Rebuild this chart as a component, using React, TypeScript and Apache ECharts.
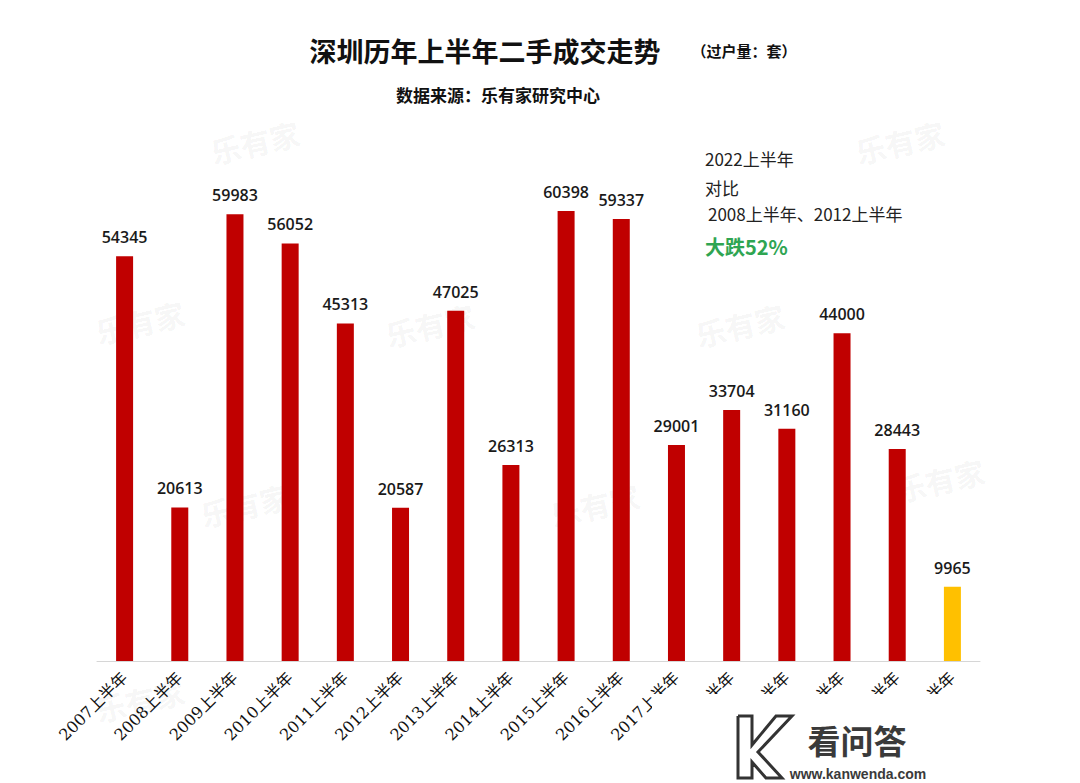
import React, { useEffect, useRef } from "react";
import * as echarts from "echarts";

const categories = [
  "2007上半年", "2008上半年", "2009上半年", "2010上半年", "2011上半年", "2012上半年",
  "2013上半年", "2014上半年", "2015上半年", "2016上半年", "2017上半年", "2018上半年",
  "2019上半年", "2020上半年", "2021上半年", "2022上半年",
];
const values = [
  54345, 20613, 59983, 56052, 45313, 20587, 47025, 26313, 60398, 59337, 29001, 33704,
  31160, 44000, 28443, 9965,
];
const highlightIndex = 15;
const titleText = "深圳历年上半年二手成交走势";
const unitText = "（过户量：套）";
const sourceText = "数据来源：乐有家研究中心";
const noteLines = ["2022上半年", "对比", "2008上半年、2012上半年"];
const noteHighlight = "大跌52%";

const watermarks = [
  [255, 142], [140, 322], [245, 505], [430, 325], [595, 505], [740, 325], [900, 142], [940, 480], [140, 700],
];

export default function App() {
  const ref = useRef<HTMLDivElement>(null);
  useEffect(() => {
    if (!ref.current) return;
    const chart = echarts.init(ref.current, null, { renderer: "svg" });
    const cjk = "'Noto Sans CJK SC', 'Noto Sans', sans-serif";
    const wm: any[] = watermarks.map(([x, y]) => ({
      type: "text",
      x,
      y,
      rotation: Math.PI / 14,
      z: 0,
      style: {
        text: "乐有家",
        font: "bold 30px 'Noto Sans CJK SC'",
        fill: "rgba(0,0,0,0.055)",
        align: "center",
        verticalAlign: "middle",
      },
    }));
    chart.setOption({
      animation: false,
      backgroundColor: "#ffffff",
      grid: { left: 97, right: 100, top: 139.5, bottom: 122, containLabel: false },
      xAxis: {
        type: "category",
        data: categories,
        axisLine: { lineStyle: { color: "#d6d6d6", width: 1 } },
        axisTick: { show: false },
        axisLabel: {
          interval: 0,
          rotate: 45,
          margin: 14,
          fontSize: 16,
          color: "#111",
          fontFamily: "'DejaVu Serif', 'Noto Sans CJK SC', serif",
        },
      },
      yAxis: {
        type: "value",
        min: 0,
        max: 70000,
        show: false,
        splitLine: { show: false },
      },
      series: [
        {
          type: "bar",
          barWidth: 17,
          data: values.map((v, i) => ({
            value: v,
            itemStyle: { color: i === highlightIndex ? "#ffc000" : "#c00000" },
          })),
          label: {
            show: true,
            position: "top",
            distance: 11,
            fontSize: 16,
            fontWeight: 600,
            color: "#1a1a1a",
            fontFamily: "'Open Sans', 'Noto Sans', sans-serif",
          },
          z: 2,
        },
      ],
      graphic: [
        ...wm,
        {
          type: "text",
          x: 485,
          y: 50,
          style: {
            text: titleText,
            font: `bold 27px ${cjk}`,
            fill: "#111",
            align: "center",
            verticalAlign: "middle",
          },
        },
        {
          type: "text",
          x: 744,
          y: 50,
          style: {
            text: unitText,
            font: `bold 15px ${cjk}`,
            fill: "#111",
            align: "center",
            verticalAlign: "middle",
          },
        },
        {
          type: "text",
          x: 498,
          y: 94,
          style: {
            text: sourceText,
            font: `bold 17px ${cjk}`,
            fill: "#111",
            align: "center",
            verticalAlign: "middle",
          },
        },
        {
          type: "text",
          x: 705,
          y: 158,
          style: { text: noteLines[0], font: `17px ${cjk}`, fill: "#222", verticalAlign: "middle" },
        },
        {
          type: "text",
          x: 705,
          y: 187,
          style: { text: noteLines[1], font: `17px ${cjk}`, fill: "#222", verticalAlign: "middle" },
        },
        {
          type: "text",
          x: 708,
          y: 213,
          style: { text: noteLines[2], font: `17px ${cjk}`, fill: "#222", verticalAlign: "middle" },
        },
        {
          type: "text",
          x: 705,
          y: 246,
          style: { text: noteHighlight, font: `bold 20px ${cjk}`, fill: "#2fa552", verticalAlign: "middle" },
        },
        {
          type: "rect",
          z: 10,
          shape: { x: 652, y: 694, width: 428, height: 89 },
          style: { fill: "#ffffff" },
        },
        {
          type: "polyline",
          z: 11,
          shape: { points: [[738, 716], [752, 716], [752, 745], [776, 716], [792, 716], [758, 752], [782, 778], [766, 778], [752, 762], [752, 778], [738, 778], [738, 716]] },
          style: { fill: "none", stroke: "#333", lineWidth: 3 },
        },
        {
          type: "text",
          z: 11,
          x: 857,
          y: 740,
          style: { text: "看问答", font: `bold 33px ${cjk}`, fill: "#3a3a3a", align: "center", verticalAlign: "middle" },
        },
        {
          type: "text",
          z: 11,
          x: 858,
          y: 774,
          style: { text: "www.kanwenda.com", font: "bold 14px 'Liberation Sans', sans-serif", fill: "#3a3a3a", align: "center", verticalAlign: "middle" },
        },
      ],
    });
    return () => chart.dispose();
  }, []);
  return (
    <div
      ref={ref}
      style={{ position: "fixed", left: 0, top: 0, width: 1080, height: 783 }}
    />
  );
}
